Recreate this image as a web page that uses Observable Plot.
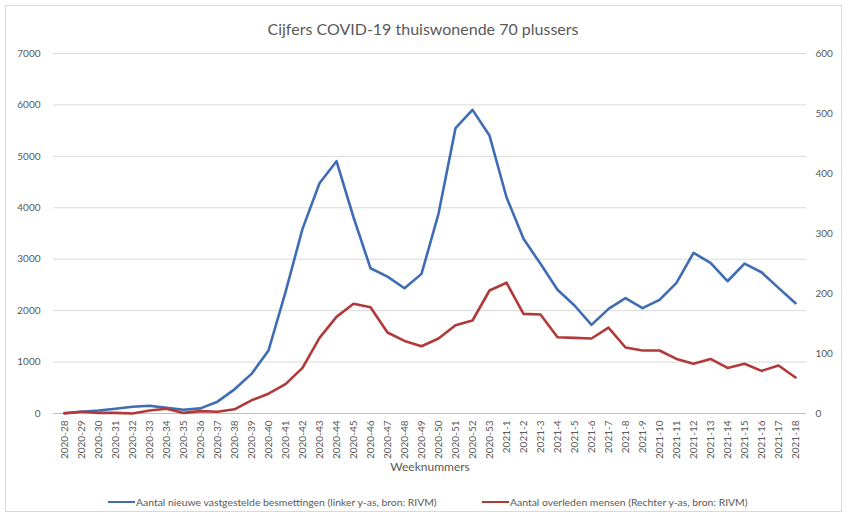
<!DOCTYPE html>
<html><head><meta charset="utf-8">
<script src="https://cdn.jsdelivr.net/npm/d3@7"></script>
<script src="https://cdn.jsdelivr.net/npm/@observablehq/plot@0.6"></script>
<style>
body{margin:0;background:#fff;font-family:Lato,"Open Sans",sans-serif;}
#frame{position:absolute;left:5px;top:5px;width:837px;height:507px;border:1px solid #d9d9d9;box-sizing:border-box;}
#title{position:absolute;top:19px;left:0;width:846px;text-align:center;font-size:16px;color:#595959;}
#chart{position:absolute;left:0;top:0;}
.leg{position:absolute;top:496px;font-size:10.4px;color:#595959;white-space:nowrap;}
.sw{display:inline-block;width:27px;height:0;border-top:2.5px solid;vertical-align:middle;margin-right:1px;position:relative;top:-1px;}
</style>
</head><body>
<div id="frame"></div>
<div id="chart"></div>
<div id="title">Cijfers COVID-19 thuiswonende 70 plussers</div>
<div class="leg" style="left:108px"><span class="sw" style="border-color:#3f6cb3"></span>Aantal nieuwe vastgestelde besmettingen (linker y-as, bron: RIVM)</div>
<div class="leg" style="left:482px"><span class="sw" style="border-color:#b03a3a"></span>Aantal overleden mensen (Rechter y-as, bron: RIVM)</div>
<script>
const weeks = ["2020-28","2020-29","2020-30","2020-31","2020-32","2020-33","2020-34","2020-35","2020-36","2020-37","2020-38","2020-39","2020-40","2020-41","2020-42","2020-43","2020-44","2020-45","2020-46","2020-47","2020-48","2020-49","2020-50","2020-51","2020-52","2020-53","2021-1","2021-2","2021-3","2021-4","2021-5","2021-6","2021-7","2021-8","2021-9","2021-10","2021-11","2021-12","2021-13","2021-14","2021-15","2021-16","2021-17","2021-18"];
const besmettingen = [10,33,58,91,130,150,110,72,100,230,470,770,1225,2359,3590,4477,4905,3816,2825,2660,2436,2715,3882,5547,5904,5404,4205,3396,2910,2405,2100,1724,2035,2242,2048,2210,2540,3124,2930,2572,2916,2747,2443,2145];
const overleden = [0,3,1,1,0,5,8,1,4,3,7,22,33,49,76,126,161,183,177,135,121,112,125,147,155,205,218,166,165,127,126,125,143,110,105,105,91,83,91,76,83,71,80,60];
const leftTicks = [0,1000,2000,3000,4000,5000,6000,7000];
const rightTicks = [0,100,200,300,400,500,600];

const k = 7000/600;
const data = weeks.map((w,i)=>({week:w, b:besmettingen[i], o:overleden[i]*k}));

const chart = Plot.plot({
  width:846, height:480,
  marginTop:53, marginBottom:67, marginLeft:53, marginRight:40,
  style:{fontFamily:"Lato, 'Open Sans', sans-serif", fontSize:"10px", color:"#595959", background:"transparent"},
  x:{type:"point", domain:weeks, padding:0.5, label:null},
  y:{domain:[0,7000], label:null},
  marks:[
    Plot.gridY(leftTicks, {stroke:"#d9d9d9", strokeOpacity:1}),
    Plot.axisY(leftTicks, {tickSize:0, tickPadding:13, label:null, fontSize:10, tickFormat:d=>String(d)}),
    Plot.axisY(rightTicks.map(v=>v*k), {anchor:"right", tickSize:0, tickPadding:9, tickFormat:d=>String(Math.round(d/k)), label:null, fontSize:10}),
    Plot.ruleY([0], {stroke:"#bfbfbf"}),
    Plot.axisX({tickRotate:-90, tickSize:0, tickPadding:7, label:null, fontSize:10}),
    Plot.text(["Weeknummers"], {frameAnchor:"bottom", dy:57, fontSize:12, fill:"#595959"}),
    Plot.line(data,{x:"week", y:"b", stroke:"#3f6cb3", strokeWidth:2.6}),
    Plot.line(data,{x:"week", y:"o", stroke:"#b03a3a", strokeWidth:2.6})
  ]
});
document.getElementById("chart").appendChild(chart);
</script>
</body></html>
